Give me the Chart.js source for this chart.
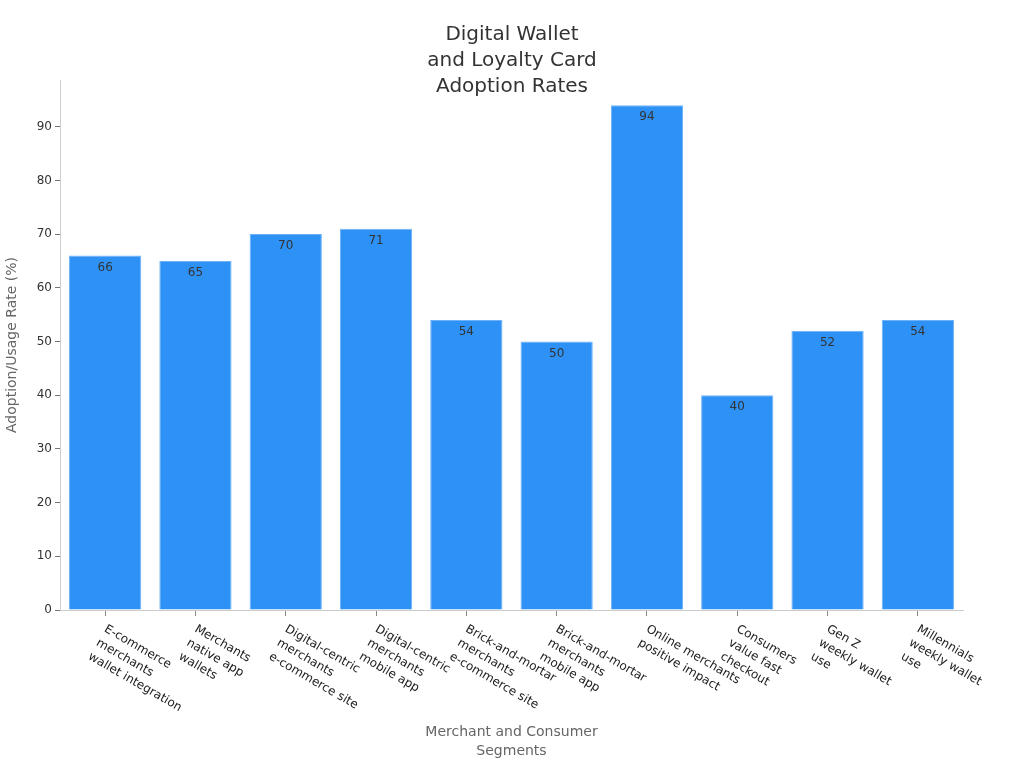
<!DOCTYPE html>
<html>
<head>
<meta charset="utf-8">
<script src="https://cdn.jsdelivr.net/npm/chart.js@4.4.0/dist/chart.umd.min.js"></script>
<style>
  html, body { margin: 0; padding: 0; background: #fff; }
  #wrap { width: 1024px; height: 768px; }
</style>
</head>
<body>
<div id="wrap"><canvas id="chart" width="1024" height="768"></canvas></div>
<script>
// Chart data
const segments = [
    ['E-commerce', 'merchants', 'wallet integration'],
    ['Merchants', 'native app', 'wallets'],
    ['Digital-centric', 'merchants', 'e-commerce site'],
    ['Digital-centric', 'merchants', 'mobile app'],
    ['Brick-and-mortar', 'merchants', 'e-commerce site'],
    ['Brick-and-mortar', 'merchants', 'mobile app'],
    ['Online merchants', 'positive impact'],
    ['Consumers', 'value fast', 'checkout'],
    ['Gen Z', 'weekly wallet', 'use'],
    ['Millennials', 'weekly wallet', 'use']
];
const rates = [66, 65, 70, 71, 54, 50, 94, 40, 52, 54];
const yTicks = [0, 10, 20, 30, 40, 50, 60, 70, 80, 90];

const FONT = "'DejaVu Sans', sans-serif";

// Draw the value near the top of every bar
const barValues = {
    id: 'barValues',
    afterDatasetsDraw(chart) {
        const ctx = chart.ctx;
        const meta = chart.getDatasetMeta(0);
        ctx.save();
        ctx.font = '12px ' + FONT;
        ctx.fillStyle = '#333';
        ctx.textAlign = 'center';
        ctx.textBaseline = 'middle';
        meta.data.forEach((bar, i) => {
            ctx.fillText(rates[i], bar.x, bar.y + 12);
        });
        ctx.restore();
    }
};

// Category labels, rotated clockwise and starting at the tick
const slantedLabels = {
    id: 'slantedLabels',
    afterDraw(chart) {
        const ctx = chart.ctx;
        const xScale = chart.scales.x;
        ctx.save();
        ctx.font = '12px ' + FONT;
        ctx.fillStyle = '#222';
        ctx.textAlign = 'left';
        ctx.textBaseline = 'top';
        segments.forEach((lines, i) => {
            const x = xScale.getPixelForValue(i);
            ctx.save();
            ctx.translate(x + 3, xScale.top + 13);
            ctx.rotate(Math.PI / 6);
            lines.forEach((line, j) => {
                ctx.fillText(line, 0, j * 16);
            });
            ctx.restore();
        });
        ctx.restore();
    }
};

new Chart(document.getElementById('chart').getContext('2d'), {
    type: 'bar',
    data: {
        labels: segments,
        datasets: [{
            data: rates,
            backgroundColor: '#2e91f5',
            borderColor: '#6cb2f8',
            borderWidth: 1,
            barPercentage: 0.8,
            categoryPercentage: 1.0
        }]
    },
    options: {
        responsive: false,
        animation: false,
        layout: {
            padding: { left: 0, right: 0, top: 0, bottom: 5 }
        },
        plugins: {
            legend: { display: false },
            tooltip: { enabled: false },
            title: {
                display: true,
                text: ['Digital Wallet', 'and Loyalty Card', 'Adoption Rates'],
                color: '#333',
                font: { family: FONT, size: 20, weight: 'normal', lineHeight: 1.3 },
                padding: { top: 22, bottom: -20 }
            }
        },
        scales: {
            x: {
                grid: {
                    offset: false,
                    drawOnChartArea: false,
                    tickLength: 6,
                    color: '#888'
                },
                border: { color: '#ccc' },
                ticks: { display: false },
                title: {
                    display: true,
                    text: ['Merchant and Consumer', 'Segments'],
                    color: '#666',
                    font: { family: FONT, size: 14, lineHeight: 1.3 },
                    padding: { top: 4, bottom: 3 }
                },
                afterFit(scale) { scale.height = 153; }
            },
            y: {
                min: 0,
                max: 98.7,
                grid: {
                    drawOnChartArea: false,
                    tickLength: 5,
                    color: '#777'
                },
                border: { color: '#ccc' },
                afterBuildTicks(scale) {
                    scale.ticks = yTicks.map(v => ({ value: v }));
                },
                ticks: {
                    color: '#333',
                    padding: 3,
                    font: { family: FONT, size: 12 }
                },
                title: {
                    display: true,
                    text: 'Adoption/Usage Rate (%)',
                    color: '#666',
                    font: { family: FONT, size: 14 },
                    padding: { top: 4, bottom: 4 }
                },
                afterFit(scale) { scale.width = 60; }
            },
            // empty right-hand axis that only keeps the right margin
            spacer: {
                position: 'right',
                display: true,
                grid: { display: false },
                border: { display: false },
                ticks: { display: false },
                afterFit(scale) { scale.width = 61; }
            }
        }
    },
    plugins: [barValues, slantedLabels]
});
</script>
</body>
</html>
